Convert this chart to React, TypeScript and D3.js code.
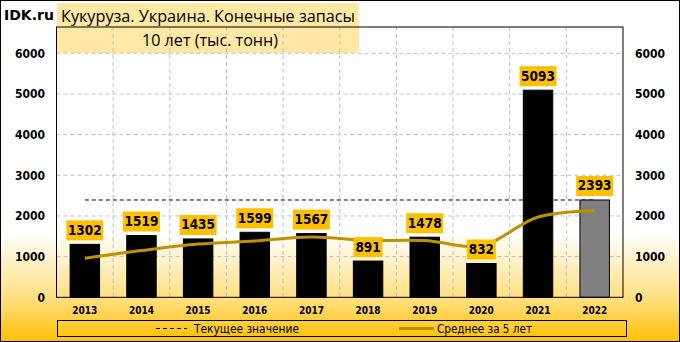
import React from "react";
import * as d3 from "d3";

const years = ["2013", "2014", "2015", "2016", "2017", "2018", "2019", "2020", "2021", "2022"];
const stocks = [1302, 1519, 1435, 1599, 1567, 891, 1478, 832, 5093, 2393];
const avg5 = [960, 1150, 1310, 1385, 1485, 1400, 1395, 1270, 1975, 2135];
const currentValue = 2393;
const yTicks = [0, 1000, 2000, 3000, 4000, 5000, 6000];
const title1 = "Кукуруза. Украина. Конечные запасы";
const title2 = "10 лет (тыс. тонн)";
const legendLabels = ["Текущее значение", "Среднее за 5 лет"];

const W = 680;
const H = 342;
const PL = 56.5, PR = 623, PT = 27, PB = 297.3;
const TICK_FONT = "'DejaVu Sans Condensed', 'DejaVu Sans', sans-serif";

export default function App() {
  const x = d3.scaleBand<string>().domain(years).range([PL, PR]).paddingInner(0.48).paddingOuter(0.24);
  const step = x.step();
  const y = d3.scaleLinear().domain([0, 6000]).range([PB, 53.3]);
  const cx = (yr: string) => (x(yr) as number) + x.bandwidth() / 2;

  const line = d3
    .line<number>()
    .x((_, i) => cx(years[i]))
    .y((d) => y(d))
    .curve(d3.curveCatmullRom.alpha(0.5));

  const boundaries = d3.range(1, years.length).map((i) => PL + i * step);

  return (
    <svg width={W} height={H} style={{ position: "absolute", left: 0, top: 0 }}>
      <defs>
        <linearGradient id="bg" x1="0" y1="0" x2="0" y2="1">
          <stop offset="0" stopColor="#ffffff" />
          <stop offset="0.68" stopColor="#ffffff" />
          <stop offset="0.88" stopColor="#FFDD7A" />
          <stop offset="1" stopColor="#FFC000" />
        </linearGradient>
      </defs>
      <rect x={0} y={0} width={W} height={H} fill="url(#bg)" />
      {/* title box */}
      <rect x={57} y={3} width={302} height={50} fill="#FFE8A3" />
      <text x={4} y={20} fontFamily="'DejaVu Sans', sans-serif" fontWeight="bold" fontSize={14} fill="#000">
        IDK.ru
      </text>
      <text x={61} y={22} fontFamily="'Open Sans', 'Noto Sans', sans-serif" fontSize={16} textLength={294} lengthAdjust="spacingAndGlyphs" fill="#000">
        {title1}
      </text>
      <text x={210} y={46} textAnchor="middle" fontFamily="'Open Sans', 'Noto Sans', sans-serif" fontSize={16} textLength={136} lengthAdjust="spacingAndGlyphs" fill="#000">
        {title2}
      </text>

      {/* gridlines */}
      {yTicks.filter((t) => t > 0).map((t) => (
        <line key={"h" + t} x1={PL} x2={PR} y1={y(t)} y2={y(t)} stroke="#BFBFBF" strokeDasharray="4,3" />
      ))}
      {boundaries.map((b, i) => (
        <line key={"v" + i} x1={b} x2={b} y1={PT} y2={PB} stroke="#BFBFBF" strokeDasharray="4,3" />
      ))}

      {/* current value dashed line */}
      <line x1={cx(years[0])} x2={cx(years[years.length - 1])} y1={y(currentValue)} y2={y(currentValue)} stroke="#000" strokeDasharray="4,3" />

      {/* bars */}
      {stocks.map((v, i) => (
        <rect
          key={"b" + i}
          x={x(years[i]) as number}
          y={y(v)}
          width={x.bandwidth()}
          height={PB - y(v)}
          fill={i === years.length - 1 ? "#808080" : "#000"}
          stroke="#000"
          strokeWidth={1}
        />
      ))}

      {/* avg line */}
      <path d={line(avg5) || ""} fill="none" stroke="#BF9000" strokeWidth={3} />

      {/* plot border */}
      <rect x={PL} y={PT} width={PR - PL} height={PB - PT} fill="none" stroke="#000" strokeWidth={1} />

      {/* value labels */}
      {stocks.map((v, i) => {
        const s = String(v);
        const w = s.length * 8 + 5;
        const by = y(v) - 4;
        return (
          <g key={"l" + i}>
            <rect x={cx(years[i]) - w / 2} y={by - 20} width={w} height={20} fill="#FFC000" />
            <text x={cx(years[i])} y={by - 5.5} textAnchor="middle" fontFamily={TICK_FONT} fontWeight="bold" fontSize={13.5} fill="#000">
              {s}
            </text>
          </g>
        );
      })}

      {/* y axes */}
      {yTicks.map((t) => (
        <g key={"t" + t}>
          <text x={45} y={y(t) + 4.5} textAnchor="end" fontFamily={TICK_FONT} fontWeight="bold" fontSize={12} fill="#000">
            {t}
          </text>
          <text x={635} y={y(t) + 4.5} textAnchor="start" fontFamily={TICK_FONT} fontWeight="bold" fontSize={12} fill="#000">
            {t}
          </text>
        </g>
      ))}
      {/* x labels */}
      {years.map((yr) => (
        <text key={"x" + yr} x={cx(yr)} y={314} textAnchor="middle" fontFamily={TICK_FONT} fontWeight="bold" fontSize={10} fill="#000">
          {yr}
        </text>
      ))}

      {/* legend */}
      <rect x={57.5} y={320.5} width={569} height={16} fill="none" stroke="#000" strokeWidth={1} />
      <line x1={156} x2={187} y1={328.5} y2={328.5} stroke="#000" strokeDasharray="4,3" />
      <text x={194} y={332.5} fontFamily={TICK_FONT} fontSize={11.5} textLength={105} lengthAdjust="spacingAndGlyphs" fill="#000">
        {legendLabels[0]}
      </text>
      <line x1={399} x2={434} y1={328.5} y2={328.5} stroke="#BF9000" strokeWidth={3} />
      <text x={437} y={332.5} fontFamily={TICK_FONT} fontSize={11.5} textLength={95} lengthAdjust="spacingAndGlyphs" fill="#000">
        {legendLabels[1]}
      </text>

      {/* outer border */}
      <rect x={0.5} y={0.5} width={W - 1} height={H - 1} fill="none" stroke="#000" strokeWidth={1} />
    </svg>
  );
}
